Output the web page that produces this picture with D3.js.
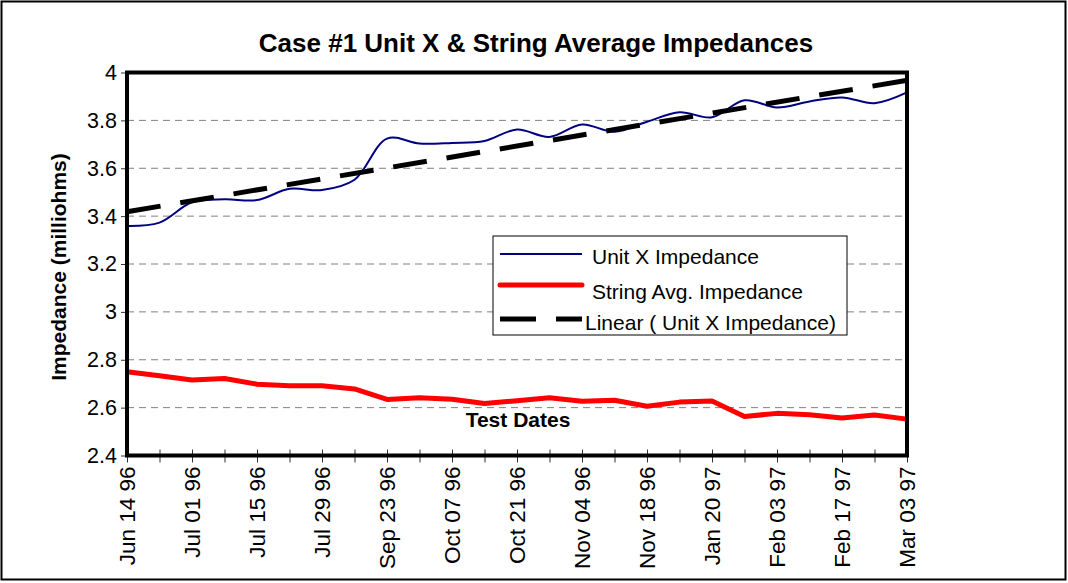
<!DOCTYPE html>
<html>
<head>
<meta charset="utf-8">
<script src="https://cdn.jsdelivr.net/npm/d3@7"></script>
<style>
  body { margin: 0; background: #fff; }
  svg text { font-family: "Liberation Sans", Arial, sans-serif; }
</style>
</head>
<body>
<div id="chart"></div>
<script>
// test dates (only every other one gets a label on the axis)
let dates = ["Jun 14 96", "Jun 24 96", "Jul 01 96", "Jul 08 96", "Jul 15 96", "Jul 22 96",
  "Jul 29 96", "Aug 12 96", "Sep 23 96", "Sep 30 96", "Oct 07 96", "Oct 14 96", "Oct 21 96",
  "Oct 28 96", "Nov 04 96", "Nov 11 96", "Nov 18 96", "Dec 02 96", "Jan 20 97", "Jan 27 97",
  "Feb 03 97", "Feb 10 97", "Feb 17 97", "Feb 24 97", "Mar 03 97"];

let unitX = [3.359, 3.373, 3.458, 3.470, 3.467, 3.514, 3.509, 3.552, 3.724, 3.703, 3.706, 3.714, 3.762,
  3.731, 3.783, 3.752, 3.794, 3.834, 3.813, 3.884, 3.854, 3.879, 3.896, 3.872, 3.917];

let stringAvg = [2.750, 2.733, 2.715, 2.722, 2.698, 2.691, 2.691, 2.678, 2.634, 2.641, 2.635, 2.617, 2.629,
  2.641, 2.627, 2.631, 2.606, 2.623, 2.628, 2.563, 2.576, 2.570, 2.557, 2.569, 2.552];

let yTicks = [2.4, 2.6, 2.8, 3, 3.2, 3.4, 3.6, 3.8, 4];

let legendNames = ["Unit X Impedance", "String Avg. Impedance", "Linear ( Unit X Impedance)"];

let width = 1068, height = 583;
let pLeft = 127, pRight = 907, pTop = 72.5, pBottom = 455.5;

let svg = d3.select('#chart').append('svg')
  .attr('width', width)
  .attr('height', height)

// outer frame
svg.append('rect')
  .attr('x', 1.5).attr('y', 1.5)
  .attr('width', 1064).attr('height', 578)
  .attr('fill', 'none').attr('stroke', '#000').attr('stroke-width', 2)

let x = d3.scalePoint()
  .domain(dates)
  .range([pLeft, pRight])
  .padding(0)

let y = d3.scaleLinear()
  .domain([2.4, 4])
  .range([pBottom, pTop])

// gridlines
svg.append('g').selectAll('line')
  .data(yTicks.slice(1, -1))
  .enter().append('line')
  .attr('x1', pLeft).attr('x2', pRight)
  .attr('y1', d => y(d)).attr('y2', d => y(d))
  .attr('stroke', '#808080')
  .attr('stroke-width', 1)
  .attr('stroke-dasharray', '7,5')

// y axis
let yAxis = svg.append('g')
  .attr('transform', 'translate(' + pLeft + ',0)')
  .call(d3.axisLeft(y).tickValues(yTicks).tickSize(6).tickPadding(4).tickFormat(d3.format('')))
yAxis.select('.domain').remove()
yAxis.selectAll('text').attr('font-size', 21.5).attr('fill', '#000')
yAxis.selectAll('line').attr('stroke', '#333')

// x axis
let xAxis = svg.append('g')
  .attr('transform', 'translate(0,' + pBottom + ')')
  .call(d3.axisBottom(x).tickSize(7).tickFormat((d, i) => i % 2 ? '' : d))
xAxis.select('.domain').remove()
xAxis.selectAll('line').attr('y1', -6).attr('stroke', '#333')
xAxis.selectAll('text')
  .attr('font-size', 22.5)
  .attr('fill', '#000')
  .attr('text-anchor', 'end')
  .attr('transform', 'rotate(-90)')
  .attr('x', -11)
  .attr('y', 0)
  .attr('dy', '0.35em')

// String avg line
svg.append('path')
  .datum(stringAvg)
  .attr('fill', 'none')
  .attr('stroke', '#ff0000')
  .attr('stroke-width', 5)
  .attr('stroke-linejoin', 'round')
  .attr('d', d3.line().x((d, i) => x(dates[i])).y(d => y(d)))

// Unit X line (smoothed)
svg.append('path')
  .datum(unitX)
  .attr('fill', 'none')
  .attr('stroke', '#000080')
  .attr('stroke-width', 2)
  .attr('d', d3.line().curve(d3.curveCatmullRom).x((d, i) => x(dates[i])).y(d => y(d)))

// linear trendline of Unit X (least squares)
let n = unitX.length;
let mx = (n - 1) / 2, my = d3.mean(unitX);
let sxy = d3.sum(unitX, (d, i) => (i - mx) * (d - my));
let sxx = d3.sum(unitX, (d, i) => (i - mx) * (i - mx));
let slope = sxy / sxx, icpt = my - slope * mx;
let trend = [0, n - 1].map(i => ({ i: i, v: icpt + slope * i }));

svg.append('path')
  .datum(trend)
  .attr('fill', 'none')
  .attr('stroke', '#000')
  .attr('stroke-width', 5)
  .attr('stroke-dasharray', '34,20')
  .attr('d', d3.line().x(d => x(dates[d.i])).y(d => y(d.v)))

// plot border
svg.append('rect')
  .attr('x', pLeft).attr('y', pTop)
  .attr('width', pRight - pLeft).attr('height', pBottom - pTop)
  .attr('fill', 'none').attr('stroke', '#000').attr('stroke-width', 4)

// legend
let lg = svg.append('g').attr('transform', 'translate(493,236)')
lg.append('rect')
  .attr('width', 354).attr('height', 99)
  .attr('fill', '#fff').attr('stroke', '#000').attr('stroke-width', 1)

let legStyle = [
  { c: '#000080', w: 2, dash: null, ly: 18, ty: 28, tx: 99 },
  { c: '#ff0000', w: 5, dash: null, ly: 49, ty: 63, tx: 99 },
  { c: '#000', w: 5, dash: '36,20', ly: 83, ty: 94, tx: 92 }
];
legendNames.forEach(function(name, i) {
  let s = legStyle[i];
  lg.append('line')
    .attr('x1', 7).attr('x2', 89)
    .attr('y1', s.ly).attr('y2', s.ly)
    .attr('stroke', s.c).attr('stroke-width', s.w)
    .attr('stroke-linecap', i == 1 ? 'round' : 'butt')
    .attr('stroke-dasharray', s.dash)
  lg.append('text')
    .attr('x', s.tx).attr('y', s.ty)
    .attr('font-size', 21)
    .text(name)
})

// titles
svg.append('text')
  .attr('x', 536).attr('y', 52)
  .attr('text-anchor', 'middle')
  .attr('font-size', 26).attr('font-weight', 'bold')
  .text('Case #1 Unit X & String Average Impedances')

svg.append('text')
  .attr('transform', 'translate(66,267) rotate(-90)')
  .attr('text-anchor', 'middle')
  .attr('font-size', 21).attr('font-weight', 'bold')
  .text('Impedance (milliohms)')

svg.append('text')
  .attr('x', 518).attr('y', 427)
  .attr('text-anchor', 'middle')
  .attr('font-size', 21).attr('font-weight', 'bold')
  .text('Test Dates')
</script>
</body>
</html>
